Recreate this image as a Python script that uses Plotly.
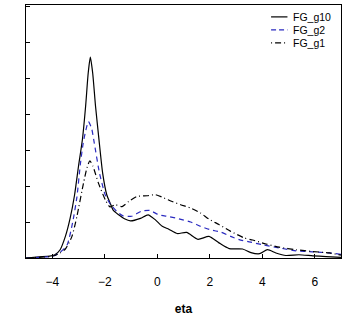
import plotly.graph_objects as go

# FG_g10 (solid black)
eta_g10 = [-5.0, -4.5, -4.1, -3.9, -3.7, -3.5, -3.32, -3.15, -3.0, -2.85, -2.73, -2.63, -2.55,
           -2.46, -2.35, -2.22, -2.08, -1.92, -1.78, -1.68, -1.47, -1.25, -1.02, -0.64, -0.35,
           -0.07, 0.19, 0.44, 0.76, 1.12, 1.55, 1.97, 2.35, 2.74, 3.25, 3.57, 3.9, 4.2, 4.52,
           4.9, 5.4, 5.93, 6.43, 7.0]
val_g10 = [0.0, 0.03, 0.05, 0.09, 0.23, 0.6, 1.1, 1.75, 2.55, 3.3, 4.21, 5.14, 5.58,
           5.14, 4.21, 3.29, 2.36, 1.75, 1.5, 1.33, 1.2, 1.09, 1.03, 1.1, 1.2,
           1.06, 0.88, 0.8, 0.68, 0.71, 0.52, 0.6, 0.42, 0.26, 0.25, 0.15, 0.12, 0.23, 0.14,
           0.07, 0.09, 0.06, 0.04, 0.02]

# FG_g2 (dashed blue)
eta_g2 = [-5.0, -4.5, -4.1, -3.9, -3.7, -3.44, -3.22, -3.06, -2.93, -2.82, -2.72, -2.62, -2.5,
          -2.4, -2.2, -1.98, -1.79, -1.55, -1.3, -0.98, -0.6, -0.28, 0.06, 0.44, 0.82, 1.27,
          1.65, 2.04, 2.42, 2.8, 3.12, 3.5, 4.0, 4.65, 5.29, 5.93, 6.56, 7.0]
val_g2 = [0.0, 0.02, 0.04, 0.07, 0.16, 0.35, 1.0, 1.7, 2.6, 3.2, 3.55, 3.79, 3.6,
          3.2, 2.36, 1.75, 1.5, 1.3, 1.17, 1.16, 1.3, 1.32, 1.2, 1.15, 1.09, 1.0,
          0.88, 0.78, 0.72, 0.6, 0.51, 0.45, 0.37, 0.28, 0.2, 0.17, 0.14, 0.1]

# FG_g1 (dash-dot black)
eta_g1 = [-5.0, -4.5, -4.1, -3.9, -3.7, -3.5, -3.25, -3.06, -2.81, -2.68, -2.57, -2.45, -2.24,
          -1.98, -1.8, -1.6, -1.34, -1.09, -0.77, -0.38, -0.07, 0.25, 0.57, 0.89, 1.27, 1.65,
          1.97, 2.35, 2.8, 3.31, 3.63, 4.14, 4.65, 5.29, 5.93, 6.56, 7.0]
val_g1 = [0.0, 0.02, 0.04, 0.07, 0.14, 0.25, 0.6, 1.16, 2.08, 2.5, 2.7, 2.55, 2.08,
          1.62, 1.42, 1.48, 1.43, 1.57, 1.71, 1.73, 1.76, 1.67, 1.57, 1.48, 1.39, 1.25,
          1.08, 0.93, 0.74, 0.56, 0.5, 0.39, 0.3, 0.23, 0.18, 0.14, 0.08]

x_ticks = [-4, -2, 0, 2, 4, 6]
series_names = ["FG_g10", "FG_g2", "FG_g1"]
series_colors = ["black", "#2a2ac0", "black"]
series_dashes = ["solid", "5px,4px", "6px,3px,1px,3px"]
legend_dashes = ["solid", "5px,3px", "1px,3px,6px,3px"]
series_x = [eta_g10, eta_g2, eta_g1]
series_y = [val_g10, val_g2, val_g1]

fig = go.Figure()
for name, xs, ys, col, dsh in zip(series_names, series_x, series_y, series_colors, series_dashes):
    fig.add_trace(go.Scatter(x=xs, y=ys, mode="lines", name=name, showlegend=False,
                             line=dict(color=col, width=1.2, dash=dsh, shape="spline", smoothing=0.6)))

# compact legend (drawn in paper coordinates)
legend_rows_y = [0.953, 0.902, 0.850]
for name, col, dsh, ly in zip(series_names, series_colors, legend_dashes, legend_rows_y):
    fig.add_shape(type="line", xref="paper", yref="paper", x0=0.778, x1=0.830, y0=ly, y1=ly,
                  line=dict(color=col, width=1.2, dash=dsh))
    fig.add_annotation(xref="paper", yref="paper", x=0.841, y=ly, text=name, showarrow=False,
                       xanchor="left", yanchor="middle", font=dict(size=10.5, color="black"))

fig.update_layout(
    width=342, height=316,
    margin=dict(l=26, r=1, t=5, b=58, autoexpand=False),
    paper_bgcolor="white", plot_bgcolor="white",
    font=dict(family="Liberation Sans, Arial, sans-serif", color="black", size=11),
    showlegend=False,
)
fig.update_xaxes(range=[-5, 7], tickvals=x_ticks, ticks="inside", ticklen=4, tickcolor="black",
                 showline=True, linecolor="black", linewidth=1, mirror=True, showgrid=False,
                 zeroline=False, ticklabelstandoff=13, tickfont=dict(size=12), automargin=False,
                 title=dict(text="<b>eta</b>", standoff=24, font=dict(size=12)))
fig.update_yaxes(range=[0, 7.03], dtick=1, ticks="inside", ticklen=4, tickcolor="black",
                 showticklabels=False, showline=True, linecolor="black", linewidth=1,
                 mirror=True, showgrid=False, zeroline=False, automargin=False)

fig.write_html("out.html", config={"displayModeBar": False},
               post_script="document.body.style.margin='0';document.body.style.overflow='hidden';")
